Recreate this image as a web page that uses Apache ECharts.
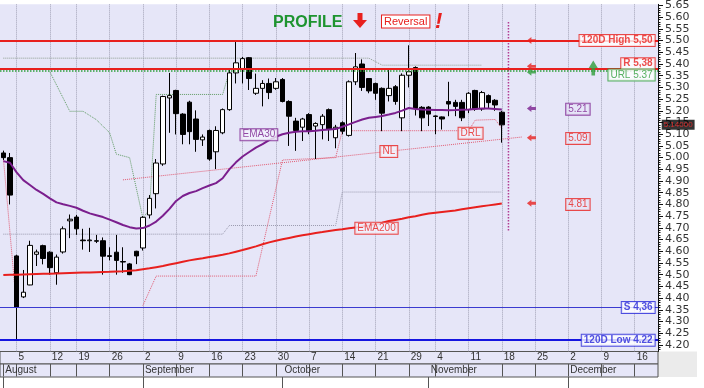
<!DOCTYPE html>
<html><head><meta charset="utf-8">
<script src="https://cdn.jsdelivr.net/npm/echarts@6/dist/echarts.min.js"></script>
<style>html,body{margin:0;padding:0;background:#fff}#c{width:704px;height:388px}</style>
</head><body><div id="c"></div>
<script>
// ---- calendar (Athens exchange, 2013) ----
const holidays = ['2013-08-15', '2013-10-28'];
const categories = (function () {
  const out = []; const d = new Date(Date.UTC(2013, 7, 1));
  while (out.length < 99) {
    const dow = d.getUTCDay(); const s = d.toISOString().slice(0, 10);
    if (dow !== 0 && dow !== 6 && holidays.indexOf(s) < 0) out.push(s);
    d.setUTCDate(d.getUTCDate() + 1);
  }
  return out;
})();

// ---- tick labels ----
const weekTickDates = ['2013-08-05','2013-08-12','2013-08-19','2013-08-26','2013-09-02','2013-09-09','2013-09-16','2013-09-23','2013-09-30','2013-10-07','2013-10-14','2013-10-21','2013-10-29','2013-11-04','2013-11-11','2013-11-18','2013-11-25','2013-12-02','2013-12-09','2013-12-16'];
const weekLabels = ['5','12','19','26','2','9','16','23','30','7','14','21','29','4','11','18','25','2','9','16'];
const monthTickDates = ['2013-08-01','2013-09-02','2013-10-01','2013-11-01','2013-12-02'];
const monthLabels = ['August','September','October','November','December'];
const majorTicks = [4.20,4.25,4.30,4.35,4.40,4.45,4.50,4.55,4.60,4.65,4.70,4.75,4.80,4.85,4.90,4.95,5.00,5.05,5.10,5.15,5.20,5.25,5.30,5.35,5.40,5.45,5.50,5.55,5.60,5.65];

// ---- price data ----
const opens  = [5.02,5.00,4.58,4.405,4.456,4.587,4.624,4.596,4.508,4.597,4.73,4.746,4.648,4.645,4.645,4.645,4.581,4.596,4.556,4.546,4.60,4.614,4.755,4.846,4.973,5.255,5.287,5.186,5.237,5.165,5.076,5.116,5.025,5.106,5.205,5.362,5.381,5.427,5.275,5.296,5.317,5.296,5.334,5.24,5.156,5.13,5.184,5.135,5.141,5.205,5.085,5.149,5.095,5.324,5.40,5.338,5.317,5.296,5.265,5.303,5.17,5.352,5.385,5.215,5.216,5.178,5.174,5.24,5.236,5.236,5.205,5.287,5.208,5.265,5.245,5.194];
const highs  = [5.03,5.02,4.585,4.52,4.645,4.607,4.628,4.60,4.586,4.706,4.757,4.755,4.696,4.70,4.67,4.659,4.617,4.67,4.617,4.55,4.602,4.75,4.84,4.994,5.265,5.362,5.29,5.19,5.243,5.202,5.099,5.12,5.134,5.21,5.376,5.50,5.43,5.43,5.359,5.331,5.338,5.34,5.34,5.245,5.17,5.17,5.19,5.151,5.186,5.21,5.14,5.155,5.33,5.447,5.42,5.34,5.32,5.30,5.38,5.31,5.36,5.48,5.39,5.22,5.22,5.18,5.176,5.324,5.247,5.247,5.28,5.29,5.285,5.27,5.25,5.20];
const lows   = [4.99,4.80,4.22,4.40,4.455,4.537,4.544,4.50,4.457,4.59,4.656,4.67,4.607,4.597,4.635,4.50,4.561,4.50,4.508,4.498,4.545,4.603,4.74,4.783,4.965,5.106,5.099,5.057,5.057,5.025,5.05,4.987,4.951,5.10,5.20,5.317,5.317,5.289,5.268,5.219,5.25,5.29,5.236,5.05,5.029,5.071,5.10,4.994,5.078,5.071,5.04,5.10,5.09,5.31,5.285,5.275,5.247,5.113,5.24,5.226,5.113,5.30,5.18,5.113,5.135,5.10,5.12,5.177,5.177,5.156,5.19,5.20,5.20,5.21,5.20,5.064];
const closes = [5.00,4.84,4.36,4.425,4.625,4.597,4.569,4.53,4.575,4.696,4.737,4.696,4.645,4.648,4.643,4.579,4.578,4.561,4.554,4.50,4.58,4.745,4.826,4.977,5.261,5.265,5.188,5.099,5.111,5.078,5.088,4.994,5.116,5.205,5.362,5.405,5.423,5.338,5.296,5.317,5.278,5.324,5.24,5.177,5.116,5.165,5.113,5.146,5.177,5.12,5.13,5.113,5.324,5.388,5.30,5.285,5.275,5.19,5.296,5.24,5.352,5.367,5.21,5.17,5.186,5.176,5.165,5.229,5.219,5.17,5.275,5.208,5.278,5.235,5.225,5.14];
const ema30  = [4.985,4.978,4.937,4.904,4.883,4.862,4.845,4.826,4.809,4.801,4.794,4.786,4.773,4.762,4.754,4.746,4.735,4.724,4.712,4.703,4.697,4.699,4.710,4.727,4.752,4.781,4.815,4.836,4.849,4.857,4.870,4.881,4.891,4.912,4.950,4.980,5.005,5.024,5.043,5.058,5.075,5.089,5.100,5.106,5.111,5.113,5.113,5.115,5.118,5.120,5.122,5.132,5.142,5.153,5.163,5.170,5.174,5.178,5.184,5.191,5.201,5.212,5.208,5.206,5.205,5.203,5.203,5.202,5.203,5.205,5.206,5.208,5.210,5.210,5.208,5.206];
const ema200 = [4.499,4.500,4.500,4.501,4.502,4.503,4.504,4.504,4.505,4.506,4.507,4.508,4.509,4.509,4.510,4.511,4.512,4.514,4.515,4.517,4.519,4.523,4.527,4.532,4.537,4.543,4.549,4.555,4.561,4.566,4.570,4.575,4.580,4.585,4.591,4.598,4.605,4.613,4.621,4.630,4.638,4.645,4.651,4.657,4.663,4.668,4.673,4.678,4.682,4.687,4.691,4.694,4.698,4.701,4.706,4.710,4.716,4.722,4.729,4.734,4.739,4.745,4.750,4.756,4.761,4.765,4.768,4.771,4.774,4.779,4.784,4.788,4.792,4.796,4.800,4.804];

// ---- indicator lines: [dayIndex, price] vertices ----
const drlSeg1 = [[0,5.00],[2,4.36]];
const drlSeg2 = [[21,4.368],[23,4.494],[38,4.494],[42,4.99],[50,5.00],[51,5.115],[70,5.115],[71,5.16],[74,5.163],[75,5.125]];
const nlLine = [[18,4.905],[78,5.088]];
const greenStep = [[7,5.367],[10,5.198],[12,5.198],[14,5.162],[16,5.106],[17,5.015],[19,5.00],[21,4.741],[22,4.78],[23,5.27],[33,5.27],[34,5.367]];
const upperGray = [[0,5.425],[55,5.425],[57,5.395],[72,5.395]];
const lowerGray = [[0,4.673],[33,4.673],[34,4.71],[50,4.71],[51,4.853],[75,4.853]];
const nextDayLine = [[76,5.58],[76,4.685]];

// ---- levels ----
const high120 = 5.50, resist = 5.38, urlLevel = 5.37, support = 4.36, low120 = 4.22;
const lastClose = 5.14;
const arrowLevels = [5.50, 5.39, 5.365, 5.21, 5.085, 4.805];
const valueTags = [['5.21', 5.207], ['5.09', 5.082], ['4.81', 4.80]];

// ---- build ----
const weekIdx = weekTickDates.map(d => categories.indexOf(d));
const monthIdx = monthTickDates.map(d => categories.indexOf(d));
const minorTicks = [];
for (let k = 418; k <= 565; k++) if (k % 5 !== 0) minorTicks.push(k / 100);

const RED = '#E8201E', PURPLE = '#7B1F8E', BLUE = '#2626D8', GREEN = '#2E9E3A', LAV = '#E6E6F8';
const FONT = 'Liberation Sans';
const L = -1.1, W = 659.1, yMin = 4.1717, yMax = 5.6549;
const candleData = opens.map((o, i) => [o, closes[i], lows[i], highs[i]]);
const lastIdx = categories.length - 1;

function boxLabel(text, color, opts) {
  return Object.assign({
    show: true, formatter: text, color: color, fontFamily: FONT, fontSize: 10,
    backgroundColor: '#fff', borderColor: color, borderWidth: 1, padding: [1, 2, 0, 2], lineHeight: 10
  }, opts || {});
}
const leftArrow = 'path://M0,5L5,0L5,3L10,3L10,7L5,7L5,10Z';
const upArrow = 'path://M5,0L10,6L7,6L7,12L3,12L3,6L0,6Z';
const arrowColors = [RED, RED, GREEN, PURPLE, RED, RED];
const tagColors = [PURPLE, RED, RED];

const annotations = [
  { value: [lastIdx, high120], label: boxLabel('120D High 5,50', RED, { position: 'left', distance: 0, fontWeight: 'bold' }) },
  { value: [lastIdx, resist], label: boxLabel('R 5,38', RED, { position: 'left', distance: 0, fontWeight: 'bold', offset: [0, -5] }) },
  { value: [lastIdx, urlLevel], label: boxLabel('URL 5.37', GREEN, { position: 'left', distance: 0, offset: [0, 4] }) },
  { value: [lastIdx, support], label: boxLabel('S 4,36', BLUE, { position: 'left', distance: 0, fontWeight: 'bold' }) },
  { value: [lastIdx, low120], label: boxLabel('120D Low 4.22', BLUE, { position: 'left', distance: 0, fontWeight: 'bold' }) },
  { value: [lastIdx, lastClose], label: { show: true, formatter: '5.14000', position: 'right', distance: 7, color: '#FF2A2A', backgroundColor: '#000', fontFamily: FONT, fontSize: 8, padding: [1, 2, 0, 2], lineHeight: 9 } },
  { value: [38, 5.098], label: boxLabel('EMA30', PURPLE, { position: 'inside', offset: [3, 0], backgroundColor: '#F2F2FC' }) },
  { value: [56, 4.698], label: boxLabel('EMA200', RED, { position: 'inside', offset: [1, 0], backgroundColor: '#F2F2FC' }) },
  { value: [58, 5.026], label: boxLabel('NL', RED, { position: 'inside', backgroundColor: '#F2F2FC' }) },
  { value: [70, 5.104], label: boxLabel('DRL', RED, { position: 'inside', offset: [2, 0], backgroundColor: '#F2F2FC' }) }
].concat(valueTags.map((t, k) => ({ value: [86, t[1]], label: boxLabel(t[0], tagColors[k], { position: 'inside', offset: [3, 0], backgroundColor: LAV }) })));

const arrows = arrowLevels.map((v, k) => ({ value: [79, v], itemStyle: { color: arrowColors[k] } }));

function dotted(name, data, color, width) {
  return { type: 'line', name: name, data: data, xAxisIndex: 0, yAxisIndex: 0, symbol: 'none', silent: true,
    lineStyle: { color: color, width: width || 1, type: 'dotted' }, z: 3 };
}

const option = {
  animation: false,
  textStyle: { fontFamily: FONT },
  grid: [
    { left: L, top: 0, width: W, height: 351.5, show: true, backgroundColor: LAV, borderWidth: 0 },
    { left: L, top: 351.5, width: W, height: 12.5, show: true, backgroundColor: LAV, borderColor: '#555', borderWidth: 1 },
    { left: L, top: 364, width: W, height: 13, show: true, backgroundColor: LAV, borderColor: '#555', borderWidth: 1 }
  ],
  xAxis: [
    { gridIndex: 0, type: 'category', data: categories, boundaryGap: true,
      axisLine: { show: false }, axisTick: { show: false }, axisLabel: { show: false },
      splitLine: { show: true, alignWithLabel: true, interval: (i) => weekIdx.indexOf(i) >= 0,
        lineStyle: { color: '#A2A2B6', type: 'dotted', width: 1 } } },
    { gridIndex: 1, type: 'category', data: categories, position: 'top', boundaryGap: true,
      axisLine: { show: false },
      axisTick: { show: true, inside: true, length: 12.5, alignWithLabel: true,
        interval: (i) => i === 0 || weekIdx.indexOf(i) >= 0, lineStyle: { color: '#555' } },
      axisLabel: { show: true, inside: true, interval: (i) => weekIdx.indexOf(i) >= 0,
        formatter: (v, i) => weekLabels[weekIdx.indexOf(i)] || '', align: 'left', padding: [0, 0, 0, 2],
        margin: 1, fontSize: 10, color: '#333', fontFamily: FONT },
      splitLine: { show: false } },
    { gridIndex: 2, type: 'category', data: categories, position: 'top', boundaryGap: true,
      axisLine: { show: false },
      axisTick: { show: true, inside: true, length: 13, alignWithLabel: true,
        interval: (i) => monthIdx.indexOf(i) >= 0, lineStyle: { color: '#555' } },
      axisLabel: { show: true, inside: true, interval: (i) => monthIdx.indexOf(i) >= 0,
        formatter: (v, i) => monthLabels[monthIdx.indexOf(i)] || '', align: 'left', padding: [0, 0, 0, 2],
        margin: 1, fontSize: 10, color: '#333', fontFamily: FONT },
      splitLine: { show: false } }
  ],
  yAxis: [
    { gridIndex: 0, type: 'value', position: 'right', min: yMin, max: yMax, scale: true,
      axisLine: { show: true, lineStyle: { color: '#111' } },
      axisTick: { show: true, length: 5, customValues: majorTicks, lineStyle: { color: '#111' } },
      axisLabel: { show: true, customValues: majorTicks, formatter: (v) => Number(v).toFixed(2), margin: 7,
        fontSize: 11, fontFamily: 'DejaVu Sans', color: '#333' },
      splitLine: { show: false } },
    { gridIndex: 0, type: 'value', position: 'right', min: yMin, max: yMax, scale: true,
      axisLine: { show: false },
      axisTick: { show: true, length: 2.5, customValues: minorTicks, lineStyle: { color: '#111' } },
      axisLabel: { show: false }, splitLine: { show: false } },
    { gridIndex: 1, type: 'value', show: false },
    { gridIndex: 2, type: 'value', show: false }
  ],
  series: [
    dotted('upperGray', upperGray, '#8E9E90', 1),
    dotted('lowerGray', lowerGray, '#9A9AAE', 1),
    dotted('greenStep', greenStep, '#5E9A62', 1),
    dotted('drl1', drlSeg1, '#E25A72', 1),
    dotted('drl2', drlSeg2, '#E25A72', 1),
    dotted('NL', nlLine, '#E25A72', 1),
    { type: 'candlestick', name: 'price', data: candleData, xAxisIndex: 0, yAxisIndex: 0, barWidth: 5, clip: false,
      itemStyle: { color: '#fff', color0: '#000', borderColor: '#000', borderColor0: '#000', borderWidth: 1 },
      z: 4,
      markLine: { silent: true, symbol: ['none', 'none'], label: { show: false }, animation: false,
        data: [
          { yAxis: high120, lineStyle: { color: RED, width: 2, type: 'solid' } },
          { yAxis: resist, lineStyle: { color: RED, width: 2, type: 'solid' } },
          { yAxis: urlLevel, lineStyle: { color: GREEN, width: 1.5, type: 'dotted' } },
          { yAxis: support, lineStyle: { color: '#3A3AD0', width: 1, type: 'solid' } },
          { yAxis: low120, lineStyle: { color: '#1515E0', width: 2, type: 'solid' } }
        ] } },
    { type: 'line', name: 'EMA200', data: ema200, xAxisIndex: 0, yAxisIndex: 0, symbol: 'none', z: 5,
      lineStyle: { color: RED, width: 2 } },
    { type: 'line', name: 'EMA30', data: ema30, xAxisIndex: 0, yAxisIndex: 0, symbol: 'none', z: 5,
      lineStyle: { color: PURPLE, width: 2 } },
    dotted('nextDay', nextDayLine, '#B23C92', 1.5),
    { type: 'scatter', name: 'arrows', data: arrows, xAxisIndex: 0, yAxisIndex: 0, symbol: leftArrow,
      symbolSize: [9, 7], symbolOffset: [3, 0], z: 6, silent: true },
    { type: 'scatter', name: 'up', data: [[89, 5.383]], xAxisIndex: 0, yAxisIndex: 0, symbol: upArrow,
      symbolSize: [9, 15], symbolOffset: [-1.6, 0], itemStyle: { color: GREEN }, z: 6, silent: true },
    { type: 'scatter', name: 'labels', data: annotations, xAxisIndex: 0, yAxisIndex: 0, symbolSize: 0,
      z: 8, silent: true }
  ],
  graphic: [
    { type: 'rect', shape: { x: 658, y: 351.5, width: 39, height: 25.5 }, style: { fill: '#EBEBEB' }, z: -1 },
    { type: 'text', x: 273, y: 15, style: { text: 'PROFILE', font: 'bold 16px "Liberation Sans"', fill: '#1E9430' }, z: 20 },
    { type: 'polygon', shape: { points: [[357.5,13],[362.5,13],[362.5,20],[367,20],[360,28],[353,20],[357.5,20]] }, style: { fill: RED }, z: 20 },
    { type: 'text', x: 382, y: 15.5, style: { text: 'Reversal', font: '11px "Liberation Sans"', fill: RED, backgroundColor: '#fff', borderColor: RED, borderWidth: 1, padding: [1, 2, 0, 2] }, z: 20 },
    { type: 'text', x: 435, y: 11, style: { text: '!', font: 'italic bold 22px "Liberation Sans"', fill: RED }, z: 20 }
  ]
};

const chart = echarts.init(document.getElementById('c'));
chart.setOption(option);
</script>
</body></html>
